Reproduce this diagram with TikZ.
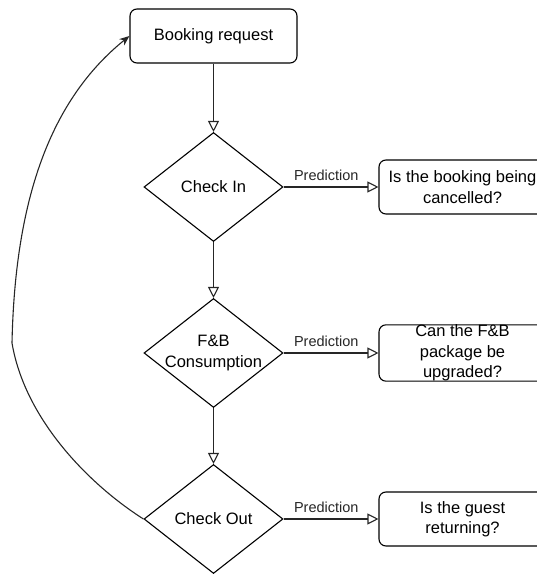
\documentclass[tikz,border=0pt]{standalone}
\usepackage{fontspec}
\setmainfont{Liberation Sans}
\usepackage{tikz}
\usetikzlibrary{arrows.meta,shapes,calc}
\usetikzlibrary{positioning}
\tikzstyle{arrow}=[draw,-{Triangle[open,length=11pt,width=11pt]},line width=1.1pt,black!85]
\tikzstyle{back}=[draw,-{Stealth[length=10pt,width=8pt]},line width=1.1pt,black!85]
\tikzstyle{block} =
  [rectangle, draw, line width=1.1pt, minimum width=167pt, text centered,
   rounded corners=7pt, minimum height=54pt, inner sep=0pt, align=center,
   font=\fontsize{16.5}{20.5}\selectfont]
\tikzstyle{decision} =
  [diamond, draw, line width=1.1pt, minimum width=139pt, minimum height=109pt,
   aspect=1.3, inner sep=-4pt, align=center,
   font=\fontsize{16.5}{20.5}\selectfont]
\tikzstyle{pred}=[above, pos=0.45, yshift=2pt, font=\fontsize{14.5}{16}\selectfont]

\begin{document}
\begin{tikzpicture}[x=1pt, y=1pt, node distance=166pt]
  \useasboundingbox (0,0) rectangle (537,574);
  \node [block] (br) at (213.5,538) {Booking request};
  \node [decision, below of=br, node distance=151pt] (ci) {Check In};
  \node [decision, below of=ci] (fb) {F\&B\\Consumption};
  \node [decision, below of=fb] (co) {Check Out};

  \node [block, right of=ci, node distance=249pt] (q1) {Is the booking being\\cancelled?};
  \node [block, right of=fb, node distance=249pt] (q2) {Can the F\&B\\package be\\upgraded?};
  \node [block, right of=co, node distance=249pt] (q3) {Is the guest\\returning?};

  \draw [arrow] (br) -- (ci);
  \draw [arrow] (ci) -- (fb);
  \draw [arrow] (fb) -- (co);
  \draw [arrow] (ci.east) -- node [pred] {Prediction} (q1.west);
  \draw [arrow] (fb.east) -- node [pred] {Prediction} (q2.west);
  \draw [arrow] (co.east) -- node [pred] {Prediction} (q3.west);

  % back to the start
  \coordinate (bend) at (12,231);
  \draw [back] (co.west) .. controls (90,89) and (25,154) .. (bend)
    .. controls (15,374) and (50,474) .. (br.west);
\end{tikzpicture}
\end{document}
